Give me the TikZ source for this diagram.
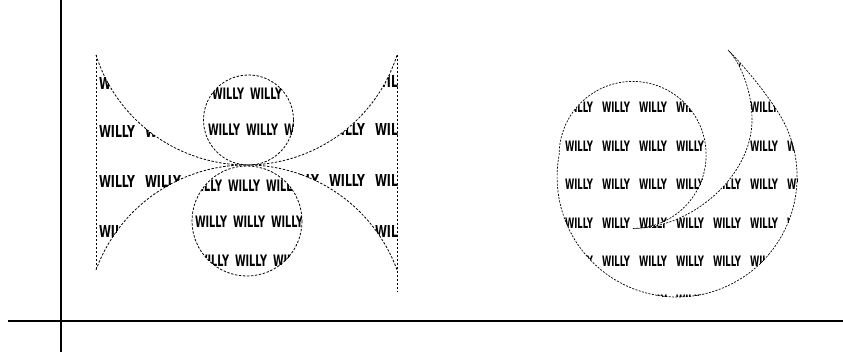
\documentclass[tikz,border=0pt]{standalone}
\usepackage{graphicx}
\usepackage{fontspec}
\newfontfamily\willyfont{DejaVu Sans}
\newcommand\willyword[3]{\makebox[#1pt][l]{\resizebox{#2pt}{#3pt}{\willyfont\bfseries WILLY}}}
\newcommand\willyrow[4]{\foreach \k in {1,...,#1}{\willyword{#2}{#3}{#4}}}
\tikzset{
  outl/.style={dash pattern=on 2.4pt off 1.6pt, line width=0.8pt},
  outr/.style={dash pattern=on 2pt off 1.4pt, line width=0.7pt},
  axisline/.style={line width=1.2pt},
  row/.style={anchor=west, inner sep=0pt, outer sep=0pt}
}
\begin{document}
\begin{tikzpicture}[x=1pt,y=-1pt]
\useasboundingbox (0,0) rectangle (843,353);
% axes
\draw[axisline] (61,0) -- (61,352);
\draw[axisline] (8,321) -- (843,321);

% ---------- left figure: text fills ----------
\begin{scope}
\clip (96,55) arc[start angle=162.3,end angle=90,radius=158] arc[start angle=270,end angle=200.2,radius=160.4] -- cycle
      (397,55) arc[start angle=17.7,end angle=90,radius=158] arc[start angle=270,end angle=339.8,radius=160.4] -- cycle;
% left wedge
\node[row] (lw1) at (99,83)  {\willyrow{1}{46}{36}{12}};
\node[row] (lw2) at (99,131) {\willyrow{2}{46}{36}{12}};
\node[row] (lw3) at (99,181) {\willyrow{2}{46}{36}{12}};
\node[row] (lw4) at (99,231) {\willyrow{1}{46}{36}{12}};
% right wedge
\node[row] (rw1) at (375,81)  {\willyrow{1}{46}{36}{12}};
\node[row] (rw2) at (329,129) {\willyrow{2}{46}{36}{12}};
\node[row] (rw3) at (283,180) {\willyrow{3}{46}{36}{12}};
\node[row] (rw4) at (375,231) {\willyrow{1}{46}{36}{12}};
\end{scope}
\begin{scope}
\clip (248.5,120) circle[radius=45];
\node[row] (uc1) at (212,94)  {\willyrow{3}{38}{32}{11.5}};
\node[row] (uc2) at (208,130) {\willyrow{3}{38}{32}{11.5}};
\end{scope}
\begin{scope}
\clip (247,221) circle[radius=55];
\node[row] (lc1) at (190,186) {\willyrow{3}{38}{32}{11.5}};
\node[row] (lc2) at (195,222) {\willyrow{3}{38}{32}{11.5}};
\node[row] (lc3) at (197,261) {\willyrow{3}{38}{32}{11.5}};
\end{scope}

% ---------- left figure: outlines ----------
\draw[outl] (96,55) arc[start angle=162.3,end angle=17.7,radius=158];
\draw[outl] (96,270) arc[start angle=200.2,end angle=339.8,radius=160.4];
\draw[outl] (96,55) -- (96,270);
\draw[outl] (397,55) -- (397,292);
\draw[outl] (248.5,120) circle[radius=45];
\draw[outl] (247,221) circle[radius=55];

% ---------- right figure ----------
\begin{scope}
\clip (728,50) .. controls (745,67) and (768,95) .. (781,117)
      arc[start angle=-30,end angle=190.6,radius=120]
      arc[start angle=180,end angle=450,radius=73.5]
      .. controls (693,228.5) and (752,175) .. (752,120)
      .. controls (752,90) and (740,62) .. (728,50) -- cycle;
\foreach \y [count=\i] in {69,107.5,146,184.5,223,261.5,300}
  \node[row] (rf\i) at (528,\y) {\willyrow{8}{37}{28}{10.5}};
\end{scope}
\draw[outr] (728,50) .. controls (745,67) and (768,95) .. (781,117)
      arc[start angle=-30,end angle=190.6,radius=120]
      arc[start angle=180,end angle=450,radius=73.5]
      .. controls (693,228.5) and (752,175) .. (752,120)
      .. controls (752,90) and (740,62) .. (728,50) -- cycle;
\end{tikzpicture}
\end{document}
